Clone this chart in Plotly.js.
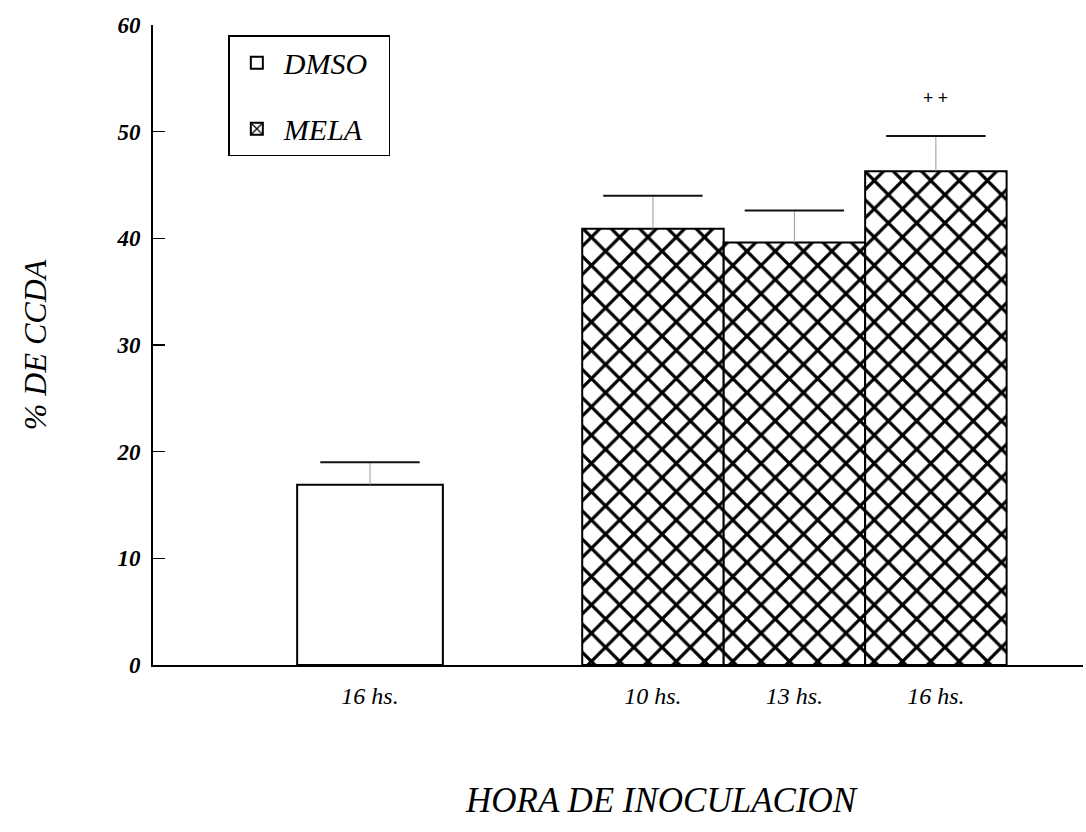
<!DOCTYPE html>
<html>
<head>
<meta charset="utf-8">
<script src="https://cdn.plot.ly/plotly-3.0.1.min.js"></script>
<style>html,body{margin:0;padding:0;background:#fff;}#chart{width:1086px;height:832px;}</style>
</head>
<body>
<div id="chart"></div>
<script>
// Category slots (an empty slot separates the two groups)
const slots = ["d16", "gap", "m10", "m13", "m16"];
const slotLabels = ["16 hs.", "", "10 hs.", "13 hs.", "16 hs."];

const dmsoX = ["d16"];
const dmsoY = [16.9];
const dmsoErr = [2.1];

const melaX = ["m10", "m13", "m16"];
const melaY = [40.9, 39.6, 46.3];
const melaErr = [3.1, 3.0, 3.3];

const sigX = ["m16"];
const sigY = [53.2];
const sigText = ["+ +"];

const serif = "Liberation Serif, Times New Roman, serif";

const caps = (xs, ys, es) => ({
  type: "scatter", mode: "markers", x: xs, y: ys.map((v, i) => v + es[i]),
  marker: {symbol: "line-ew-open", size: 71, color: "#111", line: {width: 2, color: "#111"}},
  showlegend: false, hoverinfo: "skip"
});

const data = [
  {
    type: "bar", name: "DMSO\u2007", x: dmsoX, y: dmsoY, width: 1.03,
    marker: {color: "#fff", line: {color: "#000", width: 2}},
    error_y: {type: "data", array: dmsoErr, symmetric: false, arrayminus: [0], color: "#999", thickness: 1, width: 0},
    legendgroup: "a"
  },
  {
    type: "bar", name: "MELA", x: melaX, y: melaY, width: 1,
    marker: {color: "#000", line: {color: "#000", width: 2},
      pattern: {shape: "x", size: 20, solidity: 0.3, fgcolor: "#000", fgopacity: 1, bgcolor: "#fff", fillmode: "replace"}},
    error_y: {type: "data", array: melaErr, symmetric: false, arrayminus: [0, 0, 0], color: "#999", thickness: 1, width: 0},
    legendgroup: "b"
  },
  caps(dmsoX, dmsoY, dmsoErr),
  caps(melaX, melaY, melaErr)
];

const layout = {
  width: 1086, height: 832,
  margin: {l: 153, r: 3, t: 25, b: 167},
  paper_bgcolor: "#fff", plot_bgcolor: "#fff",
  barmode: "overlay",
  showlegend: true,
  legend: {
    x: 0.081, y: 0.984, xanchor: "left", yanchor: "top",
    bgcolor: "#fff", bordercolor: "#000", borderwidth: 1.5,
    font: {family: serif, size: 30, style: "italic", color: "#000"},
    tracegroupgap: 24, traceorder: "grouped", itemwidth: 44
  },
  xaxis: {
    type: "category", categoryorder: "array", categoryarray: slots,
    tickvals: slots, ticktext: slotLabels,
    range: [-1.534, 5.04],
    showline: true, linecolor: "#000", linewidth: 2,
    ticks: "", showgrid: false, zeroline: false,
    tickfont: {family: serif, size: 24, style: "italic", color: "#000"},
    ticklabelstandoff: 8
  },
  yaxis: {
    range: [0, 60], tickvals: [0, 10, 20, 30, 40, 50, 60],
    showline: true, linecolor: "#000", linewidth: 2,
    ticks: "inside", ticklen: 12, tickwidth: 1.5, tickcolor: "#000",
    showgrid: false, zeroline: false,
    tickfont: {family: serif, size: 23, style: "italic", weight: "bold", color: "#000"},
    ticklabelstandoff: 6,
    title: {text: "% DE CCDA", font: {family: serif, size: 32, style: "italic", color: "#000"}, standoff: 60}
  },
  annotations: [
    {xref: "paper", yref: "paper", x: 0.547, y: -0.211, xanchor: "center", yanchor: "middle",
     text: "HORA DE INOCULACION", showarrow: false,
     font: {family: serif, size: 35, style: "italic", color: "#000"}},
    ...sigX.map((x, i) => ({x: x, y: sigY[i], text: sigText[i], showarrow: false,
      font: {family: serif, size: 18, weight: "bold", color: "#000"}}))
  ]
};

Plotly.newPlot("chart", data, layout, {displayModeBar: false, staticPlot: true});
</script>
</body>
</html>
